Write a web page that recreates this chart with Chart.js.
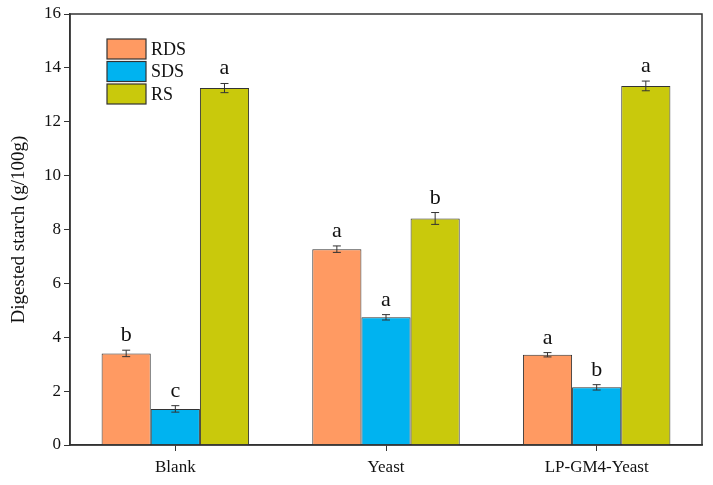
<!DOCTYPE html>
<html>
<head>
<meta charset="utf-8">
<script src="https://cdn.jsdelivr.net/npm/chart.js@4"></script>
<style>
  html, body { margin: 0; padding: 0; background: #fff; }
  #wrap { width: 713px; height: 485px; }
</style>
</head>
<body>
<div id="wrap"><canvas id="starchChart" width="713" height="485"></canvas></div>
<script>
const groups = ["Blank", "Yeast", "LP-GM4-Yeast"];
const seriesNames = ["RDS", "SDS", "RS"];
const rdsValues = [3.40, 7.27, 3.35];
const sdsValues = [1.34, 4.74, 2.14];
const rsValues = [13.25, 8.41, 13.33];
const rdsErrors = [0.12, 0.12, 0.08];
const sdsErrors = [0.12, 0.10, 0.10];
const rsErrors = [0.17, 0.22, 0.18];
const rdsLetters = ["b", "a", "a"];
const sdsLetters = ["c", "a", "b"];
const rsLetters = ["a", "b", "a"];
const yTicks = [0, 2, 4, 6, 8, 10, 12, 14, 16];

const colors = ['#FF9A62', '#00B3F0', '#C9C90C'];
const serif = "'Liberation Serif', 'Times New Roman', serif";

const errors = [rdsErrors, sdsErrors, rsErrors];
const letters = [rdsLetters, sdsLetters, rsLetters];

// error bars, significance letters, frame and legend
const extras = {
    id: 'extras',
    afterDatasetsDraw(chart) {
        const ctx = chart.ctx;
        const y = chart.scales.y;
        ctx.save();
        chart.data.datasets.forEach((ds, di) => {
            const meta = chart.getDatasetMeta(di);
            meta.data.forEach((bar, i) => {
                const v = ds.data[i];
                const e = errors[di][i];
                const yTop = y.getPixelForValue(v + e);
                const yBot = y.getPixelForValue(v - e);
                ctx.strokeStyle = '#333';
                ctx.lineWidth = 1;
                ctx.beginPath();
                ctx.moveTo(bar.x, yTop); ctx.lineTo(bar.x, yBot);
                ctx.moveTo(bar.x - 4, yTop); ctx.lineTo(bar.x + 4, yTop);
                ctx.moveTo(bar.x - 4, yBot); ctx.lineTo(bar.x + 4, yBot);
                ctx.stroke();
                ctx.fillStyle = '#111';
                ctx.font = '22px ' + serif;
                ctx.textAlign = 'center';
                ctx.textBaseline = 'alphabetic';
                ctx.fillText(letters[di][i], bar.x, yTop - 9);
            });
        });

        // frame around plot
        const a = chart.chartArea;
        ctx.strokeStyle = '#333';
        ctx.lineWidth = 1.5;
        ctx.strokeRect(a.left, a.top, a.right - a.left, a.bottom - a.top);

        // legend
        ctx.font = '18px ' + serif;
        ctx.textAlign = 'left';
        ctx.textBaseline = 'middle';
        chart.data.datasets.forEach((ds, di) => {
            const top = 39 + di * 22.5;
            ctx.fillStyle = ds.backgroundColor;
            ctx.fillRect(107, top, 39, 20);
            ctx.strokeStyle = '#333';
            ctx.lineWidth = 1.2;
            ctx.strokeRect(107, top, 39, 20);
            ctx.fillStyle = '#111';
            ctx.fillText(ds.label, 151, top + 11);
        });
        ctx.restore();
    }
};

const seriesValues = [rdsValues, sdsValues, rsValues];

new Chart(document.getElementById('starchChart'), {
    type: 'bar',
    data: {
        labels: groups,
        datasets: seriesNames.map((name, i) => ({
            label: name,
            data: seriesValues[i],
            backgroundColor: colors[i],
            borderColor: '#333',
            borderWidth: 1,
            categoryPercentage: 0.7,
            barPercentage: 1.0
        }))
    },
    options: {
        responsive: false,
        animation: false,
        layout: { padding: { top: 14, right: 11, left: 0, bottom: 0 } },
        plugins: { legend: { display: false }, tooltip: { enabled: false } },
        scales: {
            x: {
                grid: { display: true, drawOnChartArea: false, tickLength: 6, tickColor: '#333', offset: false },
                border: { color: '#333', width: 1.5 },
                ticks: { color: '#111', font: { family: serif, size: 17 }, padding: 6 },
                afterFit(scale) { scale.height = 40; }
            },
            y: {
                min: 0,
                max: 16,
                afterBuildTicks(scale) { scale.ticks = yTicks.map(v => ({ value: v })); },
                grid: { display: true, drawOnChartArea: false, tickLength: 6, tickColor: '#333' },
                border: { color: '#333', width: 1.5 },
                ticks: { color: '#111', font: { family: serif, size: 17 }, padding: 3 },
                title: {
                    display: true,
                    text: 'Digested starch (g/100g)',
                    color: '#111',
                    font: { family: serif, size: 19 },
                    padding: { top: 8, bottom: 0 }
                },
                afterFit(scale) { scale.width = 70; }
            }
        }
    },
    plugins: [extras]
});
</script>
</body>
</html>
